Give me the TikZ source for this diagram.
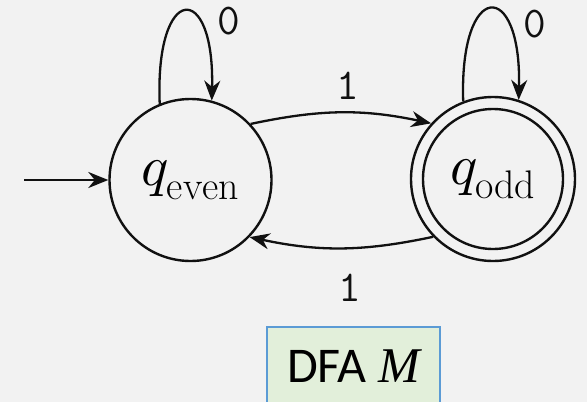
\documentclass[tikz,border=0pt]{standalone}
\usepackage{fontspec}
\usepackage{unicode-math}
\newfontfamily\carlito{Carlito}
\newfontfamily\tnr{Liberation Serif}
\usetikzlibrary{arrows.meta}
\definecolor{bgc}{HTML}{F2F2F2}
\definecolor{boxfill}{HTML}{E2EFDA}
\definecolor{boxline}{HTML}{5B9BD5}
\definecolor{ink}{HTML}{111111}
\begin{document}
\begin{tikzpicture}[x=1pt,y=-1pt,
  state/.style={circle, draw=ink, line width=2.4pt, inner sep=0pt, minimum size=162pt, font=\fontsize{57}{62}\selectfont},
  trans/.style={draw=ink, line width=2.3pt, -{Stealth[length=20pt,width=16pt]}},
  lab/.style={font=\fontsize{44}{48}\selectfont\ttfamily, inner sep=0pt, text=ink},
  caption/.style={draw=boxline, line width=1.5pt, fill=boxfill, inner sep=0pt, minimum width=173pt, text height=56pt, text depth=44pt, font=\fontsize{50}{56}\selectfont\carlito}]
\path[fill=bgc] (0,0) rectangle (587,402);
\useasboundingbox (0,0) rectangle (587,402);
\clip (0,0) rectangle (587,402);
\node[state] (even) at (190.5,180) {$q_{\mathrm{even}}$};
\node[state, minimum size=164pt] (odd) at (493,179) {$q_{\mathrm{odd}}$};
\draw[ink, line width=2.4pt] (odd.center) circle[radius=70pt];
\coordinate (init) at (24,180);
\draw[trans] (init) -- (even);
\draw[trans] (even.112) .. controls +(-5,-121) and +(3,-121) .. (even.75)
  node[lab, pos=0.6, xshift=35.8pt, yshift=-6.1pt] (l0a) {0};
\draw[trans] (odd.111) .. controls +(-4,-122) and +(3,-122) .. (odd.72)
  node[lab, pos=0.6, xshift=35.8pt, yshift=-11.3pt] (l0b) {0};
\draw[trans] (even.43) to[out=12, in=168] node[lab, xshift=7pt, yshift=26.5pt] (l1a) {1} (odd.138);
\draw[trans] (odd.224) to[out=192, in=-12] node[lab, xshift=8.6pt, yshift=-40pt] (l1b) {1} (even.316);
\node[caption, anchor=north] (cap) at (353.5,326) {DFA {\tnr\itshape M}};
\end{tikzpicture}
\end{document}
